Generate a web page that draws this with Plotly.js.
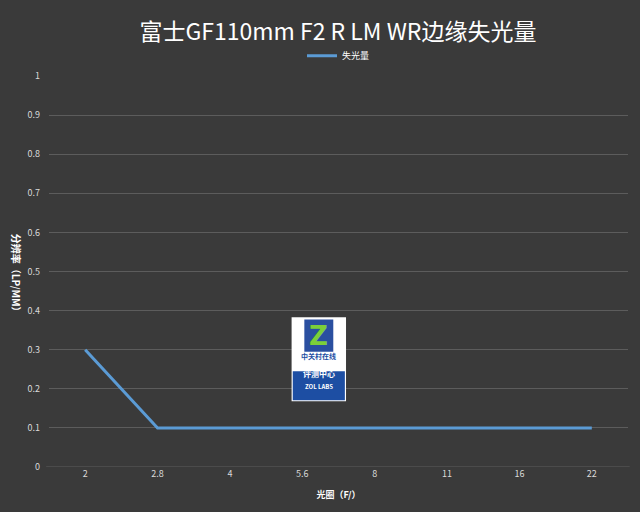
<!DOCTYPE html>
<html><head><meta charset="utf-8">
<script src="https://cdn.plot.ly/plotly-3.0.1.min.js"></script>
<style>body{margin:0;background:#3a3a3a}#c{width:640px;height:512px}</style>
</head><body><div id="c"></div>
<script>
const categories = ['2','2.8','4','5.6','8','11','16','22'];
const values = [0.3,0.1,0.1,0.1,0.1,0.1,0.1,0.1];
const seriesName = '失光量';
const yTicks = [0,0.1,0.2,0.3,0.4,0.5,0.6,0.7,0.8,0.9,1];
const yTickText = ['0','0.1','0.2','0.3','0.4','0.5','0.6','0.7','0.8','0.9','1'];

const fontFam = '"Microsoft YaHei","Noto Sans CJK SC","Noto Sans",sans-serif';
const trace = {x: categories, y: values, type:'scatter', mode:'lines', name: seriesName,
  line:{color:'#5b9bd5', width:3}};
const layout = {
  width:640, height:512,
  paper_bgcolor:'#3a3a3a', plot_bgcolor:'rgba(0,0,0,0)',
  margin:{l:49, r:12, t:76, b:45},
  title:{text:'富士GF110mm F2 R LM WR边缘失光量', x:0.528, xanchor:'center', y:0.938, yanchor:'middle',
    font:{family:fontFam, size:23, color:'#ffffff'}},
  showlegend:true,
  legend:{orientation:'h', x:0.5, xanchor:'center', y:1.052, yanchor:'middle',
    font:{family:fontFam, size:9, color:'#ffffff'}, bgcolor:'rgba(0,0,0,0)'},
  xaxis:{type:'category', range:[-0.5,7.5], showgrid:false, zeroline:false, showline:false,
    ticks:'', tickfont:{family:fontFam, size:9, color:'#d9d9d9'},
    title:{text:'<b>光圈（F/）</b>', font:{family:fontFam, size:9, color:'#ffffff'}, standoff:12}},
  yaxis:{range:[0,1], tickvals:yTicks, ticktext:yTickText, showgrid:true, gridcolor:'#5c5c5c', gridwidth:1,
    zeroline:false, showline:false, ticks:'', ticklen:0, ticklabelstandoff:8,
    tickfont:{family:fontFam, size:9, color:'#d9d9d9'}},
  shapes:[
    {type:'line', xref:'paper', yref:'y', x0:-0.005, x1:1.003, y0:0, y1:0, line:{color:'#5c5c5c', width:1}},
    {type:'rect', xref:'paper', yref:'paper', x0:0.419, x1:0.513, y0:0.168, y1:0.383, fillcolor:'#ffffff', line:{width:0}},
    {type:'rect', xref:'paper', yref:'paper', x0:0.421, x1:0.511, y0:0.171, y1:0.245, fillcolor:'#1d4ea3', line:{width:0}},
    {type:'rect', xref:'paper', yref:'paper', x0:0.441, x1:0.491, y0:0.295, y1:0.377, fillcolor:'#2a4fa0', line:{width:0}}
  ],
  annotations:[
    {text:'<b>分辨率（LP/MM）</b>', xref:'paper', yref:'paper', x:-0.056, y:0.49, xanchor:'center', yanchor:'middle',
      textangle:90, showarrow:false, font:{size:10, color:'#ffffff', family:fontFam}},
    {text:'<b>Z</b>', xref:'paper', yref:'paper', x:0.466, y:0.335, showarrow:false, font:{size:26, color:'#7ccf3a', family:'DejaVu Sans'}},
    {text:'<b>中关村在线</b>', xref:'paper', yref:'paper', x:0.466, y:0.267, showarrow:false, font:{size:7, color:'#1d4ea3', family:fontFam}},
    {text:'<b>评测中心</b>', xref:'paper', yref:'paper', x:0.466, y:0.221, showarrow:false, font:{size:8, color:'#ffffff', family:fontFam}},
    {text:'<b>ZOL LABS</b>', xref:'paper', yref:'paper', x:0.466, y:0.19, showarrow:false, font:{size:6, color:'#ffffff', family:fontFam}}
  ]
};
Plotly.newPlot('c',[trace],layout,{displayModeBar:false});
</script></body></html>
